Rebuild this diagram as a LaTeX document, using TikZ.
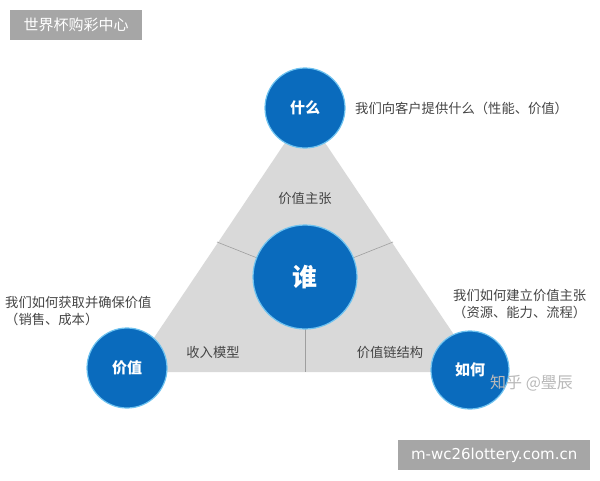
\documentclass[tikz,border=0pt]{standalone}
\usepackage{fontspec}
\setmainfont{Noto Sans CJK SC}
\newfontfamily\latinfont{DejaVu Sans}
\definecolor{cblue}{HTML}{0A6BBD}
\definecolor{cglow}{HTML}{6FC3F0}
\definecolor{tri}{HTML}{D9D9D9}
\definecolor{tgrey}{HTML}{454545}
\definecolor{boxgrey}{HTML}{A6A6A6}
\tikzset{
  circ/.style={circle, fill=cblue, draw=cglow, line width=1.2pt, text=white, font=\bfseries\fontsize{15}{17}\selectfont, inner sep=0pt},
  desc/.style={text=tgrey, font=\fontsize{13.3}{17.5}\selectfont, inner sep=0pt},
  seg/.style={draw=gray!75, line width=0.6pt},
  wbox/.style={fill=boxgrey, text=white, inner sep=0pt}
}
\begin{document}
\begin{tikzpicture}[x=1pt,y=-1pt]
\useasboundingbox (0,0) rectangle (600,480);
\fill[white] (0,0) rectangle (600,480);
% triangle
\coordinate (A) at (305,113);
\coordinate (B) at (131,372);
\coordinate (C) at (479,372);
\fill[tri] (A) -- (B) -- (C) -- cycle;
\coordinate (ctr) at (305,277);
\coordinate (eL) at (217,242);
\coordinate (eR) at (393,242);
\coordinate (eB) at (305,372);
\draw[seg] (ctr) -- (eL);
\draw[seg] (ctr) -- (eR);
\draw[seg] (ctr) -- (eB);
% circles
\node[circ, minimum size=104pt, font=\bfseries\fontsize{25}{27}\selectfont] (who) at (ctr) {谁};
\node[circ, minimum size=80pt] (what) at (305,108) {什么};
\node[circ, minimum size=80pt] (value) at (127,368) {价值};
\node[circ, minimum size=78pt] (how) at (470,370) {如何};
% inner labels
\node[desc] (vp) at (305,198) {价值主张};
\node[desc] (rm) at (213,352) {收入模型};
\node[desc] (vc) at (390,352) {价值链结构};
% outer labels
\node[desc, anchor=west] (twhat) at (355,108) {我们向客户提供什么（性能、价值）};
\node[desc, anchor=west, align=left] (tval) at (5,311) {我们如何获取并确保价值\\（销售、成本）};
\node[desc, anchor=west, align=left] (thow) at (453,304) {我们如何建立价值主张\\（资源、能力、流程）};
% watermark
\node[text=gray!55, font=\fontsize{16}{18}\selectfont, inner sep=0pt, anchor=west] (zh) at (490,383) {知乎 @璺辰};
% boxes
\node[wbox, minimum width=132pt, minimum height=30pt, anchor=north west, font=\fontsize{15}{17}\selectfont] (b1) at (10,10) {世界杯购彩中心};
\node[wbox, minimum width=192pt, minimum height=30pt, anchor=north west, font=\latinfont\fontsize{15}{17}\selectfont] (b2) at (398,440) {m-wc26lottery.com.cn};
\end{tikzpicture}
\end{document}
